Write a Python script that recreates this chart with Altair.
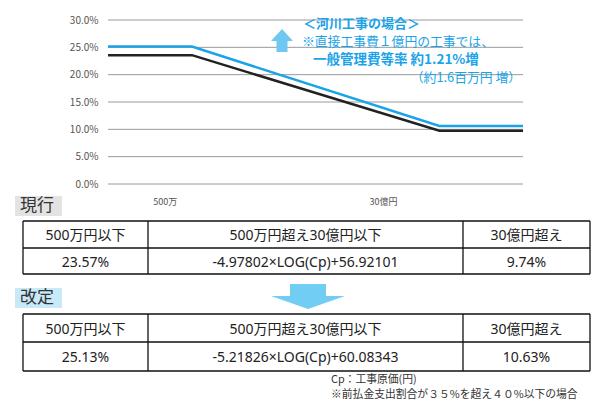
import altair as alt
import pandas as pd

W, H = 604, 413
FONT = "Noto Sans CJK JP"
FONT_MIX = "Noto Sans, Noto Sans CJK JP"
BLUE = "#1aa3e8"
TEXT = "#222222"

# ---------------- data ----------------
series = ["現行", "改定"]
breaks_log = [6.69897, 9.47712]          # log10(500万円), log10(30億円)
rate_low = [23.57, 25.13]                # 500万円以下
rate_high = [9.74, 10.63]                # 30億円超え
y_ticks = [0, 5, 10, 15, 20, 25, 30]
x_tick_labels = ["500万", "30億円"]
x_tick_pos = [6.40, 8.85]

col_headers = ["500万円以下", "500万円超え30億円以下", "30億円超え"]
cur_values = ["23.57%", "-4.97802×LOG(Cp)+56.92101", "9.74%"]
new_values = ["25.13%", "-5.21826×LOG(Cp)+60.08343", "10.63%"]
table_labels = ["現行", "改定"]
note_lines = ["＜河川工事の場合＞", "※直接工事費１億円の工事では、",
              "一般管理費等率 約1.21%増", "（約1.6百万円 増）"]
foot_lines = ["Cp：工事原価(円)", "※前払金支出割合が３５%を超え４０%以下の場合"]

# ---------------- layout ----------------
X_DOMAIN = [5.756, 10.416]
X_RANGE = [108, 523]
Y_RANGE = [184, 20]
COL_EDGES = [23, 148, 463, 590]
TABLE_ROWS = [[221, 248, 274], [314, 342, 371]]
LABEL_BOX = [[15, 62, 196, 216], [15, 62, 288, 308]]
BOX_FILLS = ["#e3e3e3", "#c8e9f9"]

# ---------------- line chart part ----------------
xs = alt.Scale(domain=X_DOMAIN, range=X_RANGE, nice=False, zero=False)
ys = alt.Scale(domain=[0, 0.30], range=Y_RANGE, nice=False, zero=False)

line_rows = []
for s, lo, hi in zip(series, rate_low, rate_high):
    pts = [X_DOMAIN[0], breaks_log[0], breaks_log[1], X_DOMAIN[1]]
    vals = [lo, lo, hi, hi]
    for i, (p, v) in enumerate(zip(pts, vals)):
        line_rows.append({"series": s, "x": p, "v": v / 100, "i": i})
line_df = pd.DataFrame(line_rows)

grid_df = pd.DataFrame({"v": [t / 100 for t in y_ticks],
                        "x0": X_DOMAIN[0], "x1": X_DOMAIN[1]})

grid = alt.Chart(grid_df).mark_rule(color="#9a9a9a", strokeWidth=1).encode(
    x=alt.X("x0:Q", scale=xs, axis=None),
    x2="x1:Q",
    y=alt.Y("v:Q", scale=ys, axis=alt.Axis(
        values=[t / 100 for t in y_ticks], format=".1%", grid=False,
        domain=False, ticks=False, labelPadding=10, offset=-X_RANGE[0],
        title=None, labelFont=FONT, labelFontSize=10, labelColor="#555")),
)

lines = alt.Chart(line_df).mark_line(strokeWidth=2.5).encode(
    x=alt.X("x:Q", scale=xs, axis=None),
    y=alt.Y("v:Q", scale=ys),
    color=alt.Color("series:N", scale=alt.Scale(domain=series, range=["#222222", BLUE]), legend=None),
    order="i:Q",
)

xlab_df = pd.DataFrame({"x": x_tick_pos, "label": x_tick_labels})
xlab = alt.Chart(xlab_df).mark_text(font=FONT, fontSize=9, color="#555", baseline="middle").encode(
    x=alt.X("x:Q", scale=xs, axis=None),
    y=alt.value(202),
    text="label:N",
)

line_part = alt.layer(grid, lines, xlab)

# ---------------- pixel-space part (tables, notes) ----------------
pxs = alt.Scale(domain=[0, W], nice=False, zero=False)
pys = alt.Scale(domain=[0, H], nice=False, zero=False, reverse=True)

def PX(f):
    return alt.X(f, type="quantitative", scale=pxs, axis=None)

def PY(f):
    return alt.Y(f, type="quantitative", scale=pys, axis=None)

box_df = pd.DataFrame([{"x0": b[0], "x1": b[1], "y0": b[2], "y1": b[3], "lab": l, "fill": f,
                        "ty": (b[2] + b[3]) / 2}
                       for b, l, f in zip(LABEL_BOX, table_labels, BOX_FILLS)])
boxes = alt.Chart(box_df).mark_rect().encode(
    x=PX("x0"), x2="x1", y=PY("y0"), y2="y1",
    fill=alt.Fill("fill:N", scale=None),
)
box_text = alt.Chart(box_df).mark_text(font=FONT, fontSize=17, color="#333", align="left",
                                        baseline="middle").encode(
    x=alt.value(LABEL_BOX[0][0] + 5), y=PY("ty"), text="lab:N")

hrules, vrules, cells = [], [], []
for rows, vals in zip(TABLE_ROWS, [cur_values, new_values]):
    for y in rows:
        hrules.append({"x0": COL_EDGES[0], "x1": COL_EDGES[-1], "y": y})
    for x in COL_EDGES:
        vrules.append({"x": x, "y0": rows[0], "y1": rows[-1]})
    for c in range(3):
        cx = (COL_EDGES[c] + COL_EDGES[c + 1]) / 2
        cells.append({"x": cx, "y": (rows[0] + rows[1]) / 2 + 1.5, "t": col_headers[c]})
        cells.append({"x": cx, "y": (rows[1] + rows[2]) / 2 + 1.5, "t": vals[c]})

h_rule = alt.Chart(pd.DataFrame(hrules)).mark_rule(color="#111", strokeWidth=1.3).encode(
    x=PX("x0"), x2="x1", y=PY("y"))
v_rule = alt.Chart(pd.DataFrame(vrules)).mark_rule(color="#111", strokeWidth=1.3).encode(
    x=PX("x"), y=PY("y0"), y2="y1")
cell_text = alt.Chart(pd.DataFrame(cells)).mark_text(font=FONT_MIX, fontSize=14, color=TEXT,
                                                      baseline="middle").encode(
    x=PX("x"), y=PY("y"), text="t:N")

note_df = pd.DataFrame({
    "t": note_lines,
    "x": [303, 302, 313, 521],
    "y": [24, 41.5, 60, 78],
    "align": ["left", "left", "left", "right"],
    "bold": ["bold", "normal", "bold", "normal"],
    "size": [13, 12.8, 13.5, 12.8],
})
notes = []
for _, r in note_df.iterrows():
    notes.append(alt.Chart(pd.DataFrame([r])).mark_text(
        font=FONT, fontSize=float(r["size"]), fontWeight=r["bold"], color=BLUE,
        align=r["align"], baseline="middle").encode(x=PX("x"), y=PY("y"), text="t:N"))

foot_df = pd.DataFrame({"t": foot_lines, "x": [331, 331], "y": [380, 395]})
foot = alt.Chart(foot_df).mark_text(font=FONT, fontSize=10.8, color="#333", align="left",
                                    baseline="middle").encode(x=PX("x"), y=PY("y"), text="t:N")

UP = "M0,-1.045L1,0.045L0.5,0.045L0.5,1.045L-0.5,1.045L-0.5,0.045L-1,0.045Z"
DOWN = "M-0.486,-0.338L0.486,-0.338L0.486,-0.014L1,-0.014L0,0.338L-1,-0.014L-0.486,-0.014Z"
up_arrow = alt.Chart(pd.DataFrame({"x": [282], "y": [40.5]})).mark_point(
    shape=UP, size=484, filled=True, fill="#6fc8f2", strokeWidth=0, opacity=1).encode(
    x=PX("x"), y=PY("y"))
down_arrow = alt.Chart(pd.DataFrame({"x": [308], "y": [296.5]})).mark_point(
    shape=DOWN, size=5476, filled=True, fill="#72cdf4", strokeWidth=0, opacity=1).encode(
    x=PX("x"), y=PY("y"))

px_part = alt.layer(boxes, box_text, h_rule, v_rule, cell_text, *notes, foot, up_arrow, down_arrow)

chart = alt.layer(line_part, px_part).resolve_scale(
    x="independent", y="independent"
).properties(
    width=W, height=H, padding=0, autosize=alt.AutoSizeParams(type="none"),
    background="white",
).configure_view(stroke=None)

chart.save("out.html", embed_options={"renderer": "svg", "actions": False})
